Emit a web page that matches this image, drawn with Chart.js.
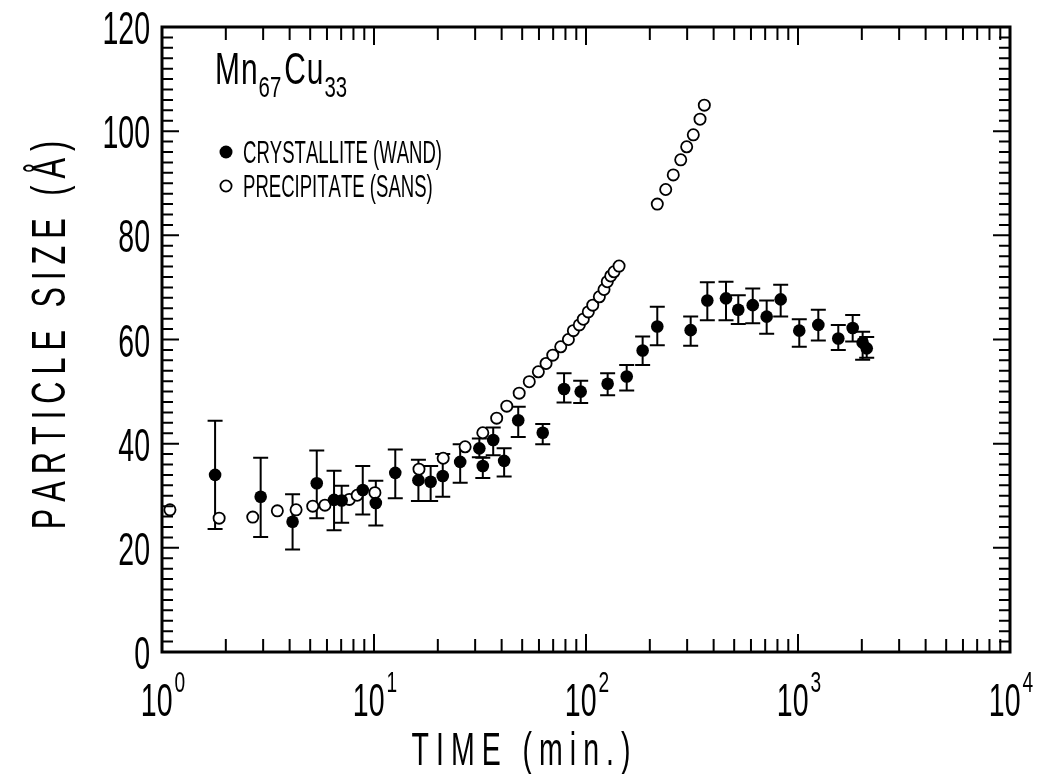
<!DOCTYPE html>
<html>
<head>
<meta charset="utf-8">
<script src="https://cdn.jsdelivr.net/npm/chart.js@4.4.1/dist/chart.umd.min.js"></script>
<style>
  html, body { margin: 0; padding: 0; background: #fff; }
  #wrap { width: 1048px; height: 774px; }
</style>
</head>
<body>
<div id="wrap"><canvas id="c" width="1048" height="774"></canvas></div>
<script>
// Crystallite size from WAND (filled symbols) with error limits
const crystTime = [1.78, 2.92, 4.13, 5.37, 6.48, 7.04, 8.85, 10.2, 12.6, 16.2, 18.5, 21.1, 25.5, 31.4, 32.6, 36.5, 41.1, 47.9, 62.5, 78.8, 94.4, 126.5, 155.6, 185, 216.9, 311.7, 373.5, 457.5, 522.8, 611.6, 711.6, 828.5, 1014, 1247, 1549, 1811, 2018, 2109];
const crystSize = [34.0, 29.8, 25.0, 32.4, 29.2, 29.1, 31.1, 28.6, 34.4, 33.0, 32.7, 33.8, 36.5, 39.1, 35.7, 40.7, 36.7, 44.5, 42.1, 50.5, 50.0, 51.5, 52.9, 57.9, 62.5, 61.8, 67.5, 67.9, 65.7, 66.6, 64.4, 67.7, 61.7, 62.8, 60.2, 62.2, 59.4, 58.3];
const crystLow  = [23.6, 22.1, 19.7, 25.7, 23.4, 24.8, 26.4, 24.3, 29.5, 29.0, 29.0, 29.8, 32.5, 37.4, 33.4, 37.8, 33.7, 41.3, 39.9, 47.9, 47.8, 49.3, 50.2, 55.1, 58.9, 58.8, 63.7, 63.7, 63.0, 63.1, 61.1, 64.4, 58.6, 59.8, 58.0, 59.6, 56.1, 56.5];
const crystHigh = [44.4, 37.3, 30.3, 38.7, 34.8, 31.9, 35.7, 32.9, 38.9, 36.9, 35.7, 38.0, 39.9, 41.0, 37.3, 43.1, 39.1, 47.1, 43.8, 53.5, 52.1, 53.5, 55.1, 60.6, 66.3, 64.4, 71.0, 71.1, 68.5, 69.8, 67.5, 70.5, 63.9, 65.7, 62.8, 64.7, 61.5, 60.5];

// Precipitate size from SANS (open symbols)
const precTime = [1.09, 1.86, 2.68, 3.50, 4.29, 5.14, 5.87, 7.65, 8.33, 10.1, 16.3, 21.2, 26.9, 32.6, 37.9, 42.3, 48.4, 54.0, 59.6, 64.8, 69.7, 76.0, 82.6, 87.2, 93.0, 97.1, 102.5, 107.6, 115.6, 121.6, 126.0, 130.8, 135.6, 143.2, 216.9, 237.7, 258, 279.8, 298.5, 320.7, 345, 361.5];
const precSize = [27.3, 25.7, 25.9, 27.1, 27.3, 28.0, 28.2, 29.3, 30.1, 30.6, 35.1, 37.2, 39.4, 42.1, 44.9, 47.2, 49.7, 51.9, 53.8, 55.4, 57.0, 58.6, 60.0, 61.7, 62.8, 63.9, 65.3, 66.6, 68.2, 69.6, 71.1, 72.2, 73.0, 74.1, 86.0, 88.8, 91.6, 94.5, 97.0, 99.3, 102.3, 105.0];

// Axis labelling
const yTickValues = [0, 20, 40, 60, 80, 100, 120];
const xDecadeExponents = [0, 1, 2, 3, 4];
const xTitle = 'TIME (min.)';
const yTitle = 'PARTICLE SIZE (Å)';
const legendLabels = ['CRYSTALLITE (WAND)', 'PRECIPITATE (SANS)'];

const FONT = '"Liberation Sans", Arial, sans-serif';

// Draws condensed text character by character with optional extra spacing
function drawText(ctx, str, x, y, size, sx, spacing, align) {
  ctx.font = size + 'px ' + FONT;
  const widths = [...str].map(ch => ctx.measureText(ch).width * sx);
  const total = widths.reduce((a, b) => a + b, 0) + spacing * (widths.length - 1);
  let cx = x;
  if (align === 'center') cx = x - total / 2;
  else if (align === 'right') cx = x - total;
  ctx.textAlign = 'left';
  ctx.textBaseline = 'alphabetic';
  [...str].forEach((ch, i) => {
    ctx.save();
    ctx.translate(cx, y);
    ctx.scale(sx, 1);
    ctx.fillText(ch, 0, 0);
    ctx.restore();
    cx += widths[i] + spacing;
  });
  return total;
}
function textWidth(ctx, str, size, sx, spacing) {
  ctx.font = size + 'px ' + FONT;
  return [...str].reduce((a, ch) => a + ctx.measureText(ch).width * sx, 0) + spacing * ([...str].length - 1);
}

// Vertical error bars for the crystallite series
const errorBars = {
  id: 'errorBars',
  beforeDatasetsDraw(chart) {
    const { ctx, scales: { x, y } } = chart;
    ctx.save();
    ctx.strokeStyle = '#000';
    ctx.lineWidth = 2;
    crystTime.forEach((t, i) => {
      const px = x.getPixelForValue(t);
      const lo = y.getPixelForValue(crystLow[i]);
      const hi = y.getPixelForValue(crystHigh[i]);
      ctx.beginPath();
      ctx.moveTo(px, lo); ctx.lineTo(px, hi);
      ctx.moveTo(px - 7.5, lo); ctx.lineTo(px + 7.5, lo);
      ctx.moveTo(px - 7.5, hi); ctx.lineTo(px + 7.5, hi);
      ctx.stroke();
    });
    ctx.restore();
  }
};

// Frame, inward ticks, tick labels, titles and legend
const frame = {
  id: 'frame',
  afterDraw(chart) {
    const { ctx, chartArea: a, scales: { x, y } } = chart;
    ctx.save();
    ctx.fillStyle = '#000';
    ctx.strokeStyle = '#000';

    // ticks on all four sides
    ctx.lineWidth = 2;
    ctx.beginPath();
    for (let d = 0; d < 4; d++) {
      for (let m = 1; m <= 9; m++) {
        const v = m * Math.pow(10, d);
        const px = x.getPixelForValue(v);
        const len = m === 1 ? 18 : 13;
        ctx.moveTo(px, a.bottom); ctx.lineTo(px, a.bottom - len);
        ctx.moveTo(px, a.top); ctx.lineTo(px, a.top + len);
      }
    }
    for (let v = 0; v <= 120; v += 2) {
      const py = y.getPixelForValue(v);
      const len = v % 20 === 0 ? 17 : 11;
      ctx.moveTo(a.left, py); ctx.lineTo(a.left + len, py);
      ctx.moveTo(a.right, py); ctx.lineTo(a.right - len, py);
    }
    ctx.stroke();

    ctx.lineWidth = 3;
    ctx.strokeRect(a.left, a.top, a.right - a.left, a.bottom - a.top);

    // y tick labels
    yTickValues.forEach(v => {
      const py = y.getPixelForValue(v);
      drawText(ctx, String(v), 150, py + 17, 46, 0.62, 0, 'right');
    });

    // x tick labels: 10 with raised exponent
    xDecadeExponents.forEach(e => {
      const px = x.getPixelForValue(Math.pow(10, e));
      const wBase = textWidth(ctx, '10', 46, 0.62, 0);
      const wExp = textWidth(ctx, String(e), 29, 0.66, 0);
      const start = px + 1 - (wBase + 2 + wExp) / 2;
      drawText(ctx, '10', start, 716, 46, 0.62, 0, 'left');
      drawText(ctx, String(e), start + wBase + 2, 692, 29, 0.66, 0, 'left');
    });

    // axis titles
    drawText(ctx, xTitle, 521, 765, 46, 0.62, 7, 'center');
    ctx.save();
    ctx.translate(65, 335);
    ctx.rotate(-Math.PI / 2);
    drawText(ctx, yTitle, 0, 0, 48, 0.64, 7, 'center');
    ctx.restore();

    // alloy label with subscripts
    let cx = 215;
    cx += drawText(ctx, 'Mn', cx, 84, 44, 0.68, 1, 'left') + 1;
    cx += drawText(ctx, '67', cx, 97, 30, 0.68, 0, 'left') + 3;
    cx += drawText(ctx, 'Cu', cx, 84, 44, 0.68, 1, 'left') + 1;
    drawText(ctx, '33', cx, 97, 30, 0.68, 0, 'left');

    // legend
    ctx.beginPath();
    ctx.arc(226, 152, 6.5, 0, Math.PI * 2);
    ctx.fill();
    ctx.beginPath();
    ctx.lineWidth = 1.8;
    ctx.arc(226, 186, 5.6, 0, Math.PI * 2);
    ctx.stroke();
    drawText(ctx, legendLabels[0], 243, 163, 32, 0.58, 0, 'left');
    drawText(ctx, legendLabels[1], 243, 197, 32, 0.58, 0, 'left');

    ctx.restore();
  }
};

new Chart(document.getElementById('c'), {
  type: 'scatter',
  data: {
    datasets: [
      {
        label: legendLabels[0],
        data: crystTime.map((t, i) => ({ x: t, y: crystSize[i] })),
        pointRadius: 6.3,
        pointBackgroundColor: '#000',
        pointBorderColor: '#000',
        pointBorderWidth: 0,
        showLine: false,
        clip: false
      },
      {
        label: legendLabels[1],
        data: precTime.map((t, i) => ({ x: t, y: precSize[i] })),
        pointRadius: 5.6,
        pointBackgroundColor: '#fff',
        pointBorderColor: '#000',
        pointBorderWidth: 1.8,
        showLine: false,
        clip: false
      }
    ]
  },
  options: {
    responsive: false,
    animation: false,
    devicePixelRatio: 1,
    layout: { padding: { left: 162, right: 38, top: 27, bottom: 122 } },
    plugins: { legend: { display: false }, tooltip: { enabled: false } },
    scales: {
      x: { type: 'logarithmic', min: 1, max: 10000, display: false },
      y: { type: 'linear', min: 0, max: 120, display: false }
    }
  },
  plugins: [errorBars, frame]
});
</script>
</body>
</html>
